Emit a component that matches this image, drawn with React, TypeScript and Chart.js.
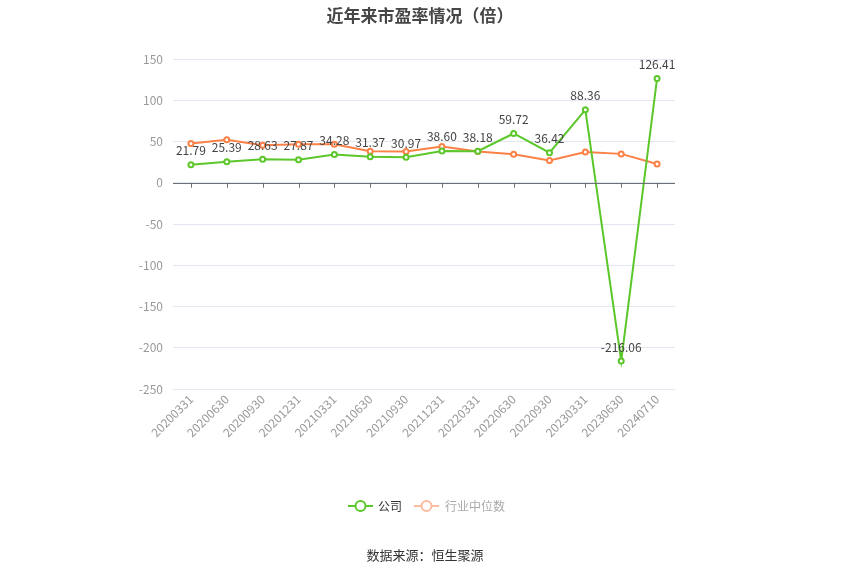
import React, { useEffect, useRef } from "react";
import { Chart, registerables } from "chart.js";

Chart.register(...registerables);

const categories = [
  "20200331", "20200630", "20200930", "20201231", "20210331", "20210630", "20210930",
  "20211231", "20220331", "20220630", "20220930", "20230331", "20230630", "20240710",
];
const companyPE = [21.79, 25.39, 28.63, 27.87, 34.28, 31.37, 30.97, 38.6, 38.18, 59.72, 36.42, 88.36, -216.06, 126.41];
const industryPE = [47.5, 52.2, 45.5, 46.7, 46.7, 38.2, 38.0, 44.0, 38.0, 34.5, 27.0, 37.3, 35.0, 22.7];
const yTicks = { min: -250, max: 150, step: 50 };

const GREEN = "#5cc72a";
const ORANGE = "#fb8146";
const FONT = "'Noto Sans CJK SC', 'Noto Sans', sans-serif";

const extrasPlugin = {
  id: "extras",
  afterDatasetsDraw(chart: any) {
    const ctx = chart.ctx;
    const x = chart.scales.x;
    const y = chart.scales.y;
    const y0 = y.getPixelForValue(0);
    ctx.save();
    ctx.strokeStyle = "#6e7079";
    ctx.lineWidth = 1;
    ctx.beginPath();
    ctx.moveTo(chart.chartArea.left, Math.round(y0) + 0.5);
    ctx.lineTo(chart.chartArea.right, Math.round(y0) + 0.5);
    for (let i = 0; i < categories.length; i++) {
      const px = Math.round(x.getPixelForValue(i)) + 0.5;
      ctx.moveTo(px, y0);
      ctx.lineTo(px, y0 + 5);
    }
    ctx.stroke();
    const meta = chart.getDatasetMeta(0);
    ctx.fillStyle = "#444";
    ctx.font = `12px ${FONT}`;
    ctx.textAlign = "center";
    ctx.textBaseline = "bottom";
    meta.data.forEach((pt: any, i: number) => {
      ctx.fillText(companyPE[i].toFixed(2), pt.x, pt.y - 8);
    });
    ctx.restore();
  },
};

export default function App() {
  const ref = useRef<HTMLCanvasElement>(null);
  useEffect(() => {
    if (!ref.current) return;
    const chart = new Chart(ref.current, {
      type: "line",
      data: {
        labels: categories,
        datasets: [
          {
            label: "公司",
            data: companyPE,
            borderColor: GREEN,
            backgroundColor: "#fff",
            borderWidth: 2,
            pointRadius: 2.5,
            pointBorderWidth: 2,
            pointBackgroundColor: "#fff",
            pointBorderColor: GREEN,
            tension: 0,
            order: 1,
          },
          {
            label: "行业中位数",
            data: industryPE,
            borderColor: ORANGE,
            backgroundColor: "#fff",
            borderWidth: 2,
            pointRadius: 2.5,
            pointBorderWidth: 2,
            pointBackgroundColor: "#fff",
            pointBorderColor: ORANGE,
            tension: 0,
            order: 2,
          },
        ],
      },
      options: {
        responsive: false,
        animation: false,
        layout: { padding: { top: 59, right: 175, left: 0, bottom: 0 } },
        plugins: {
          legend: { display: false },
          title: { display: false },
          tooltip: { enabled: false },
        },
        scales: {
          x: {
            offset: true,
            grid: { display: false, drawTicks: false },
            border: { display: false },
            ticks: {
              color: "#999",
              font: { size: 12, family: FONT },
              maxRotation: 45,
              minRotation: 45,
              autoSkip: false,
              padding: 3,
            },
            afterFit(scale: any) {
              scale.height = 186;
            },
          },
          y: {
            min: yTicks.min,
            max: yTicks.max,
            grid: { color: "#e3e7ef", drawTicks: false },
            border: { display: false },
            ticks: {
              stepSize: yTicks.step,
              color: "#999",
              font: { size: 12, family: FONT },
              padding: 10,
            },
            afterFit(scale: any) {
              scale.width = 173;
            },
          },
        },
      },
      plugins: [extrasPlugin],
    });
    return () => chart.destroy();
  }, []);

  return (
    <div style={{ position: "fixed", left: 0, top: 0, width: 850, height: 575, background: "#fff", fontFamily: FONT }}>
      <canvas ref={ref} width={850} height={575} style={{ position: "absolute", left: 0, top: 0 }} />
      <div style={{ position: "absolute", top: 2, left: -5, width: 850, textAlign: "center", fontSize: 17, fontWeight: "bold", color: "#464646" }}>
        近年来市盈率情况（倍）
      </div>
      <div style={{ position: "absolute", top: 497, left: 348, display: "flex", alignItems: "center", fontSize: 12 }}>
        <div style={{ display: "flex", alignItems: "center", marginRight: 12 }}>
          <svg width={25} height={14} style={{ marginRight: 5 }}>
            <line x1={0} y1={7} x2={25} y2={7} stroke={GREEN} strokeWidth={2} />
            <circle cx={12.5} cy={7} r={5} fill="#fff" stroke={GREEN} strokeWidth={2} />
          </svg>
          <span style={{ color: "#333" }}>公司</span>
        </div>
        <div style={{ display: "flex", alignItems: "center" }}>
          <svg width={25} height={14} style={{ marginRight: 6 }}>
            <line x1={0} y1={7} x2={25} y2={7} stroke="#fdbc9f" strokeWidth={2} />
            <circle cx={12.5} cy={7} r={5} fill="#fff" stroke="#fdbc9f" strokeWidth={2} />
          </svg>
          <span style={{ color: "#aaa" }}>行业中位数</span>
        </div>
      </div>
      <div style={{ position: "absolute", top: 545, left: 0, width: 850, textAlign: "center", fontSize: 13, color: "#333" }}>
        数据来源：恒生聚源
      </div>
    </div>
  );
}
